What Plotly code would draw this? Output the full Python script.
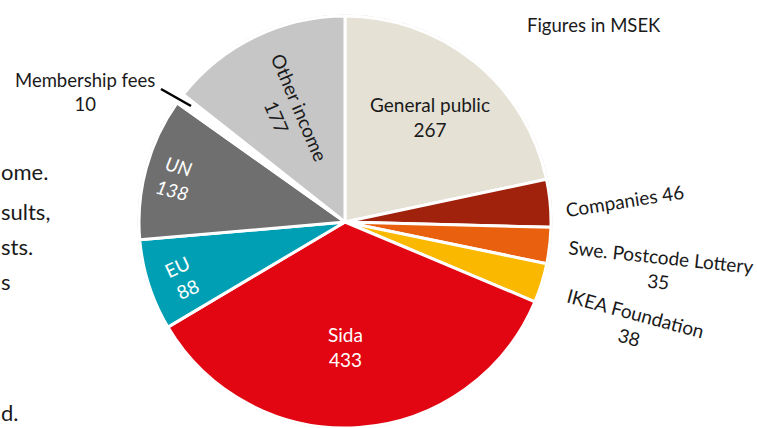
import plotly.graph_objects as go

# ---- data ----
categories = ["General public", "Companies", "Swe. Postcode Lottery", "IKEA Foundation",
              "Sida", "EU", "UN", "Membership fees", "Other income"]
values = [267, 46, 35, 38, 433, 88, 138, 10, 177]
colors = ["#E5E1D5", "#A0220C", "#E9610F", "#FBB800", "#E20613",
          "#009FB4", "#6F6F6F", "#FFFFFF", "#C6C6C6"]

W, H = 757, 428
CX, CY, R = 345, 222, 206


def px(x):
    return x / W


def py(y):
    return 1 - y / H


fig = go.Figure(go.Pie(
    labels=categories, values=values, sort=False, direction="clockwise", rotation=0,
    marker=dict(colors=colors, line=dict(color="white", width=3)),
    textinfo="none", hoverinfo="skip", showlegend=False,
    domain=dict(x=[px(CX - R), px(CX + R)], y=[py(CY + R), py(CY - R)]),
))

FONT = "Lato, 'Open Sans', sans-serif"
DARK = "#1A1A1A"


def v(name):
    return values[categories.index(name)]


labels = [
    # text, x, y, color, angle, size
    (f"General public<br>{v('General public')}", 430, 117, DARK, 0, 19),
    (f"Companies {v('Companies')}", 624, 200, DARK, -9, 19),
    (f"Swe. Postcode Lottery<br>{v('Swe. Postcode Lottery')}", 660, 269, DARK, 6, 19),
    (f"IKEA Foundation<br>{v('IKEA Foundation')}", 632, 325, DARK, 15, 19),
    (f"Sida<br>{v('Sida')}", 345, 347, "white", 0, 19),
    (f"EU<br>{v('EU')}", 182, 278, "white", -25, 19),
    (f"<i>UN<br>{v('UN')}</i>", 175, 178, "white", 15, 19),
    (f"Other income<br>{v('Other income')}", 288, 112, DARK, 67, 19),
    (f"Membership fees<br>{v('Membership fees')}", 85, 92, DARK, 0, 18.5),
    ("Figures in MSEK", 594, 25, DARK, 0, 18.5),
]

annotations = []
for text, x, y, col, ang, size in labels:
    annotations.append(dict(
        text=text, x=px(x), y=py(y), xref="paper", yref="paper",
        xanchor="center", yanchor="middle", showarrow=False, textangle=ang,
        font=dict(family=FONT, size=size, color=col), align="center",
    ))

# visible fragments of body text at the left edge
body = [("ome.", 0, 172), ("sults,", 0, 211), ("sts.", 0, 246), ("s", 0, 281), ("d.", 0, 412)]
for t, x, y in body:
    annotations.append(dict(
        text=t, x=px(x), y=py(y), xref="paper", yref="paper",
        xanchor="left", yanchor="middle", showarrow=False, borderpad=0,
        font=dict(family=FONT, size=22, color=DARK),
    ))

shapes = [
    dict(type="circle", xref="paper", yref="paper",
         x0=px(CX - R - 1), x1=px(CX + R + 1), y0=py(CY + R + 1), y1=py(CY - R - 1),
         line=dict(color="#D4D4D4", width=1), layer="below"),
    dict(type="line", xref="paper", yref="paper",
         x0=px(161), y0=py(89), x1=px(191), y1=py(106),
         line=dict(color="black", width=2.5)),
]

fig.update_layout(
    width=W, height=H, margin=dict(l=0, r=0, t=0, b=0),
    paper_bgcolor="white", plot_bgcolor="white",
    annotations=annotations, shapes=shapes,
)

fig.write_html("out.html", config={"displayModeBar": False},
               post_script="document.body.style.margin='0';document.body.style.overflow='hidden';")
